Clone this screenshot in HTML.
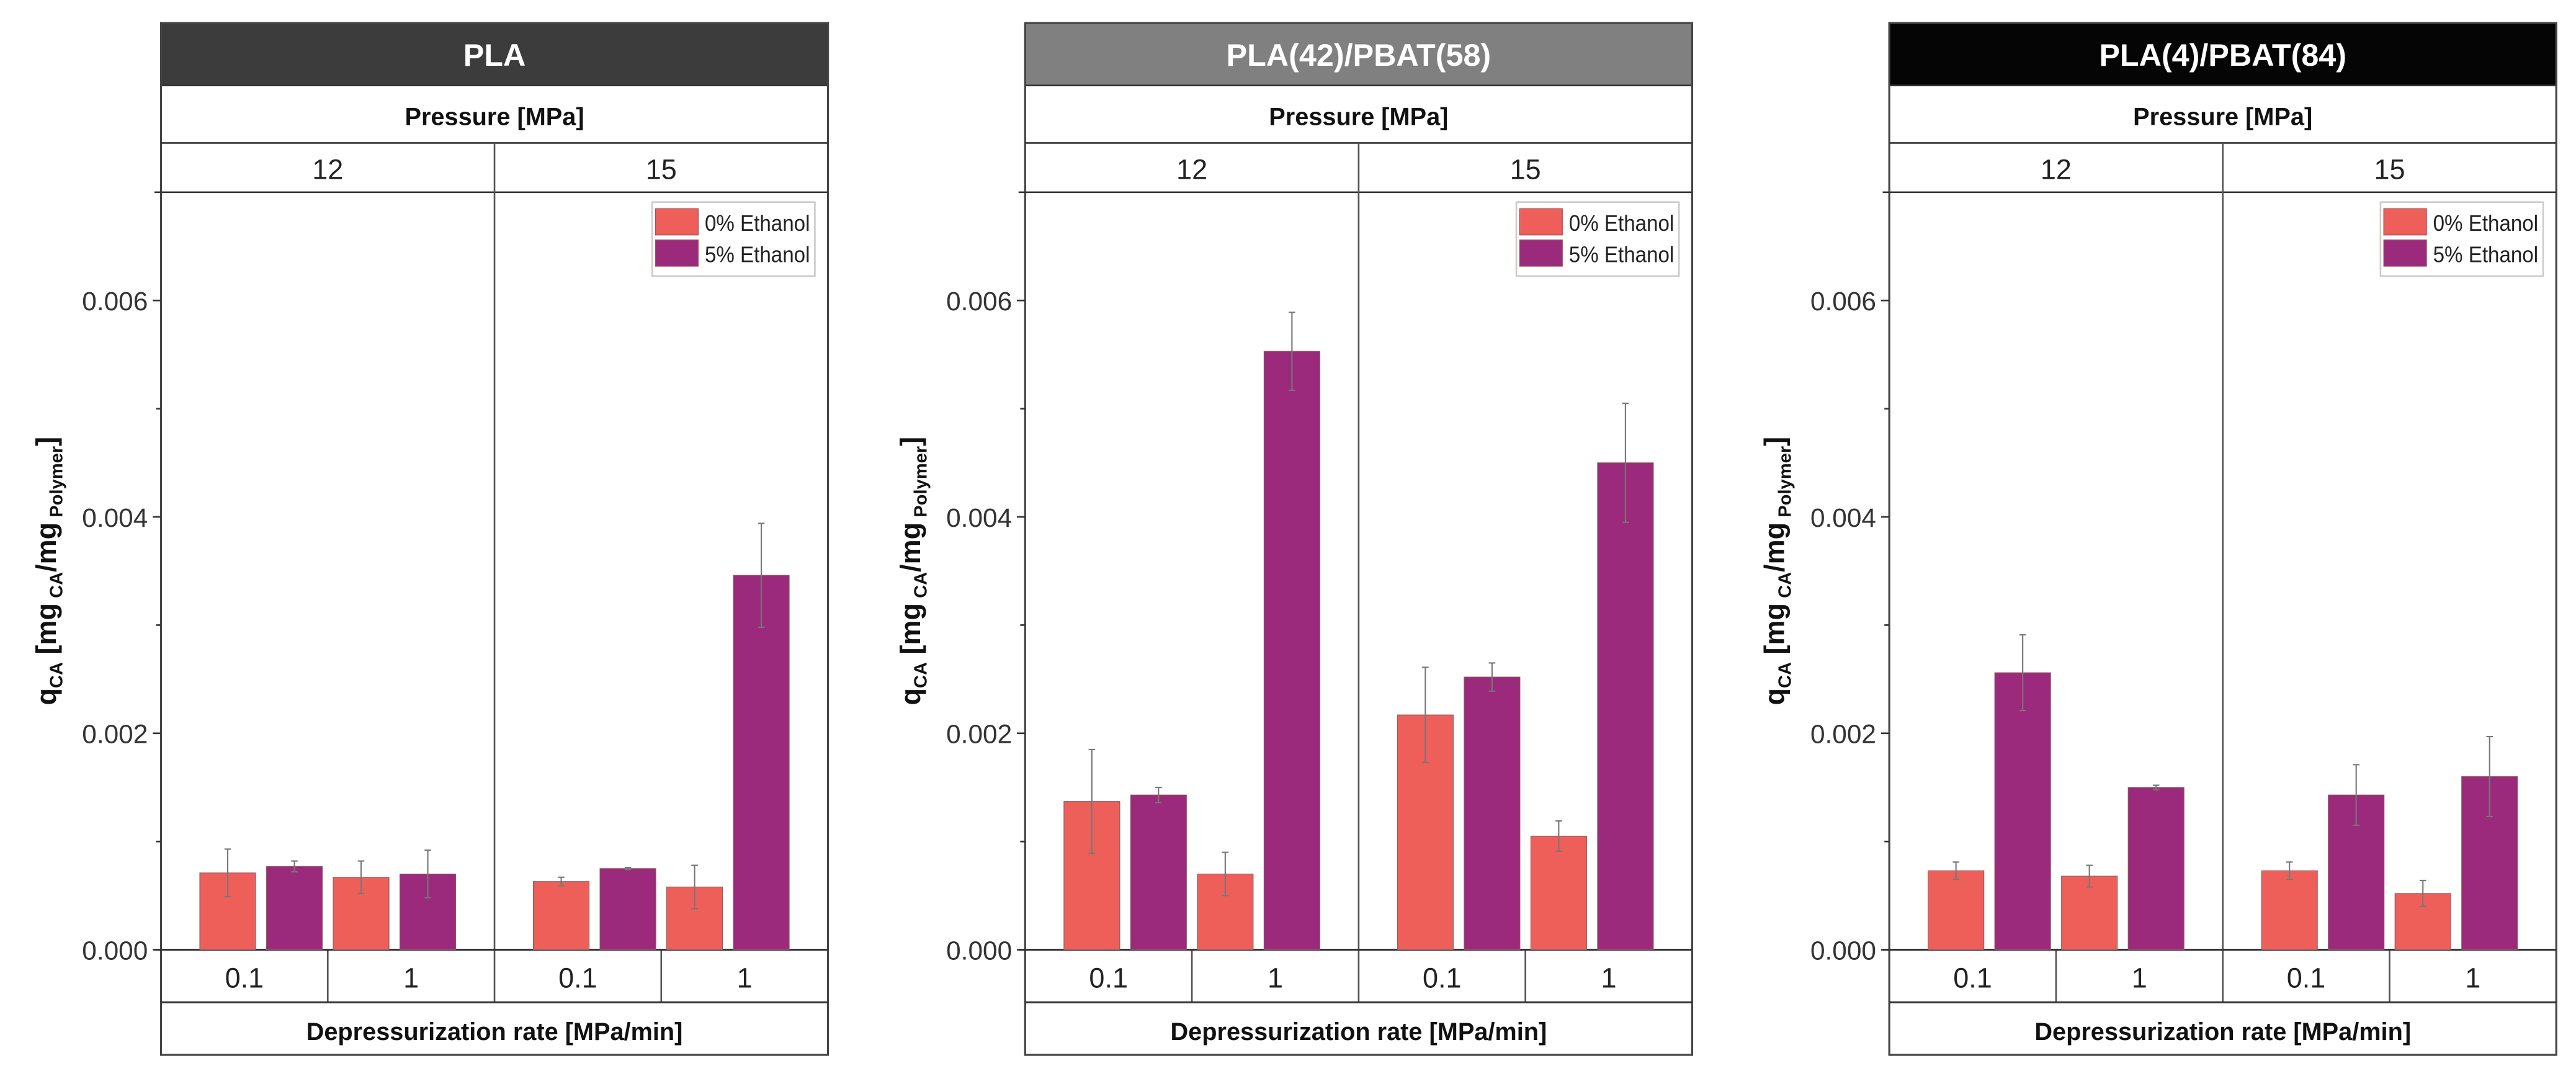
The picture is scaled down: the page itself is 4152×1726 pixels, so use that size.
<!DOCTYPE html>
<html><head><meta charset="utf-8"><style>
html,body{margin:0;padding:0;background:#fff;}
svg{display:block;font-family:"Liberation Sans",Arial,sans-serif;}
</style></head><body>
<svg id="chart" xmlns="http://www.w3.org/2000/svg" width="4152" height="1726" viewBox="0 0 1568 651.8"></svg>
<script>
const panelTitles = ["PLA", "PLA(42)/PBAT(58)", "PLA(4)/PBAT(84)"];
const pressures = ["12", "15"];
const rates = ["0.1", "1"];
const yTicks = [0, 0.002, 0.004, 0.006];
const yTickLabels = ["0.000", "0.002", "0.004", "0.006"];
const seriesNames = ["0% Ethanol", "5% Ethanol"];
// order: P12 r0.1, P12 r1, P15 r0.1, P15 r1
const pla_eth0 = [0.00071, 0.00067, 0.00063, 0.00058];
const pla_eth5 = [0.00077, 0.00070, 0.00075, 0.00346];
const pla_err0 = [0.00022, 0.00015, 0.00004, 0.00020];
const pla_err5 = [0.00005, 0.00022, 0.00001, 0.00048];
const b42_eth0 = [0.00137, 0.00070, 0.00217, 0.00105];
const b42_eth5 = [0.00143, 0.00553, 0.00252, 0.00450];
const b42_err0 = [0.00048, 0.00020, 0.00044, 0.00014];
const b42_err5 = [0.00007, 0.00036, 0.00013, 0.00055];
const b84_eth0 = [0.00073, 0.00068, 0.00073, 0.00052];
const b84_eth5 = [0.00256, 0.00150, 0.00143, 0.00160];
const b84_err0 = [0.00008, 0.00010, 0.00008, 0.00012];
const b84_err5 = [0.00035, 0.00002, 0.00028, 0.00037];

const panelData = [[pla_eth0,pla_eth5,pla_err0,pla_err5],[b42_eth0,b42_eth5,b42_err0,b42_err5],[b84_eth0,b84_eth5,b84_err0,b84_err5]];
const NS="http://www.w3.org/2000/svg";
const svg=document.getElementById('chart');
function mk(tag,attrs,parent,text){const e=document.createElementNS(NS,tag);for(const k in attrs)e.setAttribute(k,attrs[k]);if(text!==undefined)e.textContent=text;(parent||svg).appendChild(e);return e;}
const lefts=[98,624,1150], W=406;
const titleColors=["#3c3c3c","#808080","#050505"];
const yTop=117, y0=578, yMax=0.007;
const colors=["#ef5f5a","#9b2a7c"];
function ys(v){return y0-(v/yMax)*(y0-yTop);}

panelTitles.forEach((t,p)=>{
  const L=lefts[p], R=L+W, g=mk('g',{});
  
  
  const tb=mk('rect',{x:L,y:14,width:W,height:38,fill:titleColors[p],stroke:"#333","stroke-width":1},g);
  
  const tt=mk('text',{x:L+W/2,y:40,"text-anchor":"middle","font-size":19,"font-weight":"bold",fill:"#fff"},g,t);
  
  mk('rect',{x:L,y:14,width:W,height:628,fill:"none",stroke:"#444","stroke-width":1.2},g);
  mk('line',{x1:L,x2:R,y1:87,y2:87,stroke:"#333","stroke-width":1},g);
  mk('line',{x1:L-4,x2:R,y1:117,y2:117,stroke:"#333","stroke-width":1},g);
  const pl=mk('text',{x:L+W/2,y:76,"text-anchor":"middle","font-size":15,"font-weight":"bold",fill:"#111"},g,"Pressure [MPa]");
  
  mk('line',{x1:L+W/2,x2:L+W/2,y1:87,y2:610,stroke:"#555","stroke-width":1},g);
  pressures.forEach((pr,i)=>{
    const pt=mk('text',{x:L+W/4+i*W/2,y:109,"text-anchor":"middle","font-size":17,fill:"#222"},g,pr);
    
    rates.forEach((r,j)=>{
      const cx=L+W/8+i*W/2+j*W/4;
      const rt=mk('text',{x:cx,y:601,"text-anchor":"middle","font-size":17,fill:"#222"},g,r);
      
    });
  });
  [1,3].forEach(k=>mk('line',{x1:L+k*W/4,x2:L+k*W/4,y1:578,y2:610,stroke:"#555","stroke-width":1},g));
  mk('line',{x1:L,x2:R,y1:610,y2:610,stroke:"#333","stroke-width":1.2},g);
  const dl=mk('text',{x:L+W/2,y:633,"text-anchor":"middle","font-size":15,"font-weight":"bold",fill:"#111"},g,"Depressurization rate  [MPa/min]");
  
  yTicks.forEach((v,i)=>{
    mk('line',{x1:L-5,x2:L,y1:ys(v),y2:ys(v),stroke:"#333","stroke-width":1},g);
    const tl=mk('text',{x:L-8,y:ys(v)+6,"text-anchor":"end","font-size":16,fill:"#333"},g,yTickLabels[i]);
    
    if(i<yTicks.length-1){const mv=(yTicks[i]+yTicks[i+1])/2;mk('line',{x1:L-3,x2:L,y1:ys(mv),y2:ys(mv),stroke:"#333","stroke-width":1},g);}
  });
  mk('line',{x1:L-4,x2:R,y1:y0,y2:y0,stroke:"#333","stroke-width":1.2},g);
  const yt=mk('text',{transform:`translate(${L-64},${(yTop+y0)/2}) rotate(-90)`,"text-anchor":"middle","font-size":17,"font-weight":"bold",fill:"#111"},g);
  
  mk('tspan',{},yt,"q");mk('tspan',{"font-size":11,dy:4},yt,"CA");mk('tspan',{dy:-4},yt," [mg");
  mk('tspan',{"font-size":11,dy:4},yt," CA");mk('tspan',{dy:-4},yt,"/mg");mk('tspan',{"font-size":11,dy:4},yt," Polymer");mk('tspan',{dy:-4},yt,"]");
  const d=panelData[p];
  for(let h=0;h<2;h++){
    const hl=L+h*W/2, slot=(W/2)/5;
    for(let k=0;k<4;k++){
      const cat=h*2+Math.floor(k/2), s=k%2;
      const v=d[s][cat], e=d[2+s][cat];
      const cx=hl+(k+1)*slot, bw=34;
      const b=mk('rect',{x:cx-bw/2,y:ys(v),width:bw,height:y0-ys(v),fill:colors[s],stroke:"#8a5a5a","stroke-width":0.4},g);
      
      
      const eb=mk('g',{stroke:"#777","stroke-width":0.8},g);
      
      mk('line',{x1:cx,x2:cx,y1:ys(v+e),y2:ys(v-e)},eb);
      mk('line',{x1:cx-2,x2:cx+2,y1:ys(v+e),y2:ys(v+e)},eb);
      mk('line',{x1:cx-2,x2:cx+2,y1:ys(v-e),y2:ys(v-e)},eb);
    }
  }
  const lg=mk('g',{},g);
  
  mk('rect',{x:L+299,y:123,width:99,height:45,fill:"#fff",stroke:"#ccc","stroke-width":1},lg);
  seriesNames.forEach((n,i)=>{
    const en=mk('g',{},lg);
    
    mk('rect',{x:L+301,y:127+i*19,width:26,height:16,fill:colors[i],stroke:"#a05050","stroke-width":0.5},en);
    mk('text',{x:L+331,y:140.5+i*19,"font-size":13.5,fill:"#222",textLength:64,lengthAdjust:"spacingAndGlyphs"},en,n);
  });
});
</script>
</body></html>
